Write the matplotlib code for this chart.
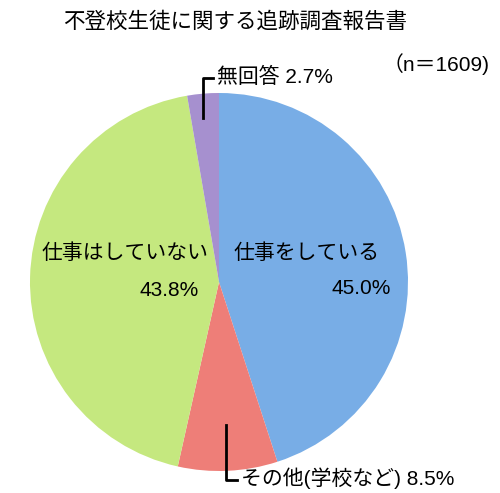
import matplotlib
matplotlib.use("Agg")
import matplotlib.pyplot as plt

plt.rcParams["font.family"] = ["Liberation Sans", "Noto Sans CJK JP", "DejaVu Sans"]

title = "不登校生徒に関する追跡調査報告書"
n_label = "（n＝1609)"
labels = ["仕事をしている", "その他(学校など)", "仕事はしていない", "無回答"]
shares = [45.0, 8.5, 43.8, 2.7]
colors = ["#78ADE6", "#EE7E78", "#C5E87F", "#A690CF"]

W, H = 500, 493
fig = plt.figure(figsize=(W / 100, H / 100), dpi=100)
ax = fig.add_axes([0, 0, 1, 1])

# pie in pixel coordinates (y measured from the bottom)
cx, cy, r = 219, H - 282, 189
ax.pie(shares, colors=colors, startangle=90, counterclock=False,
       center=(cx, cy), radius=r, wedgeprops={"linewidth": 0})
ax.set_xlim(0, W)
ax.set_ylim(0, H)
ax.set_aspect("equal")
ax.axis("off")

fs = 15
ax.text(235, H - 22, title, fontsize=fs + 0.5, va="center", ha="center")
ax.text(436, H - 64, n_label, fontsize=fs, va="center", ha="center")

# 無回答 leader
ax.plot([203, 203, 213], [H - 118, H - 78, H - 78], color="black", lw=2)
ax.text(217, H - 77, f"{labels[3]} {shares[3]}%", fontsize=fs, va="center", ha="left")

# その他 leader
ax.plot([226, 226, 237], [H - 425, H - 480, H - 480], color="black", lw=2)
ax.text(241, H - 478, f"{labels[1]} {shares[1]}%", fontsize=fs, va="center", ha="left")

# inside labels
ax.text(307, H - 253, labels[0], fontsize=fs, va="center", ha="center")
ax.text(361, H - 289, f"{shares[0]}%", fontsize=fs, va="center", ha="center")
ax.text(125, H - 253, labels[2], fontsize=fs, va="center", ha="center")
ax.text(169, H - 291, f"{shares[2]}%", fontsize=fs, va="center", ha="center")

fig.savefig("out.png", dpi=100)
